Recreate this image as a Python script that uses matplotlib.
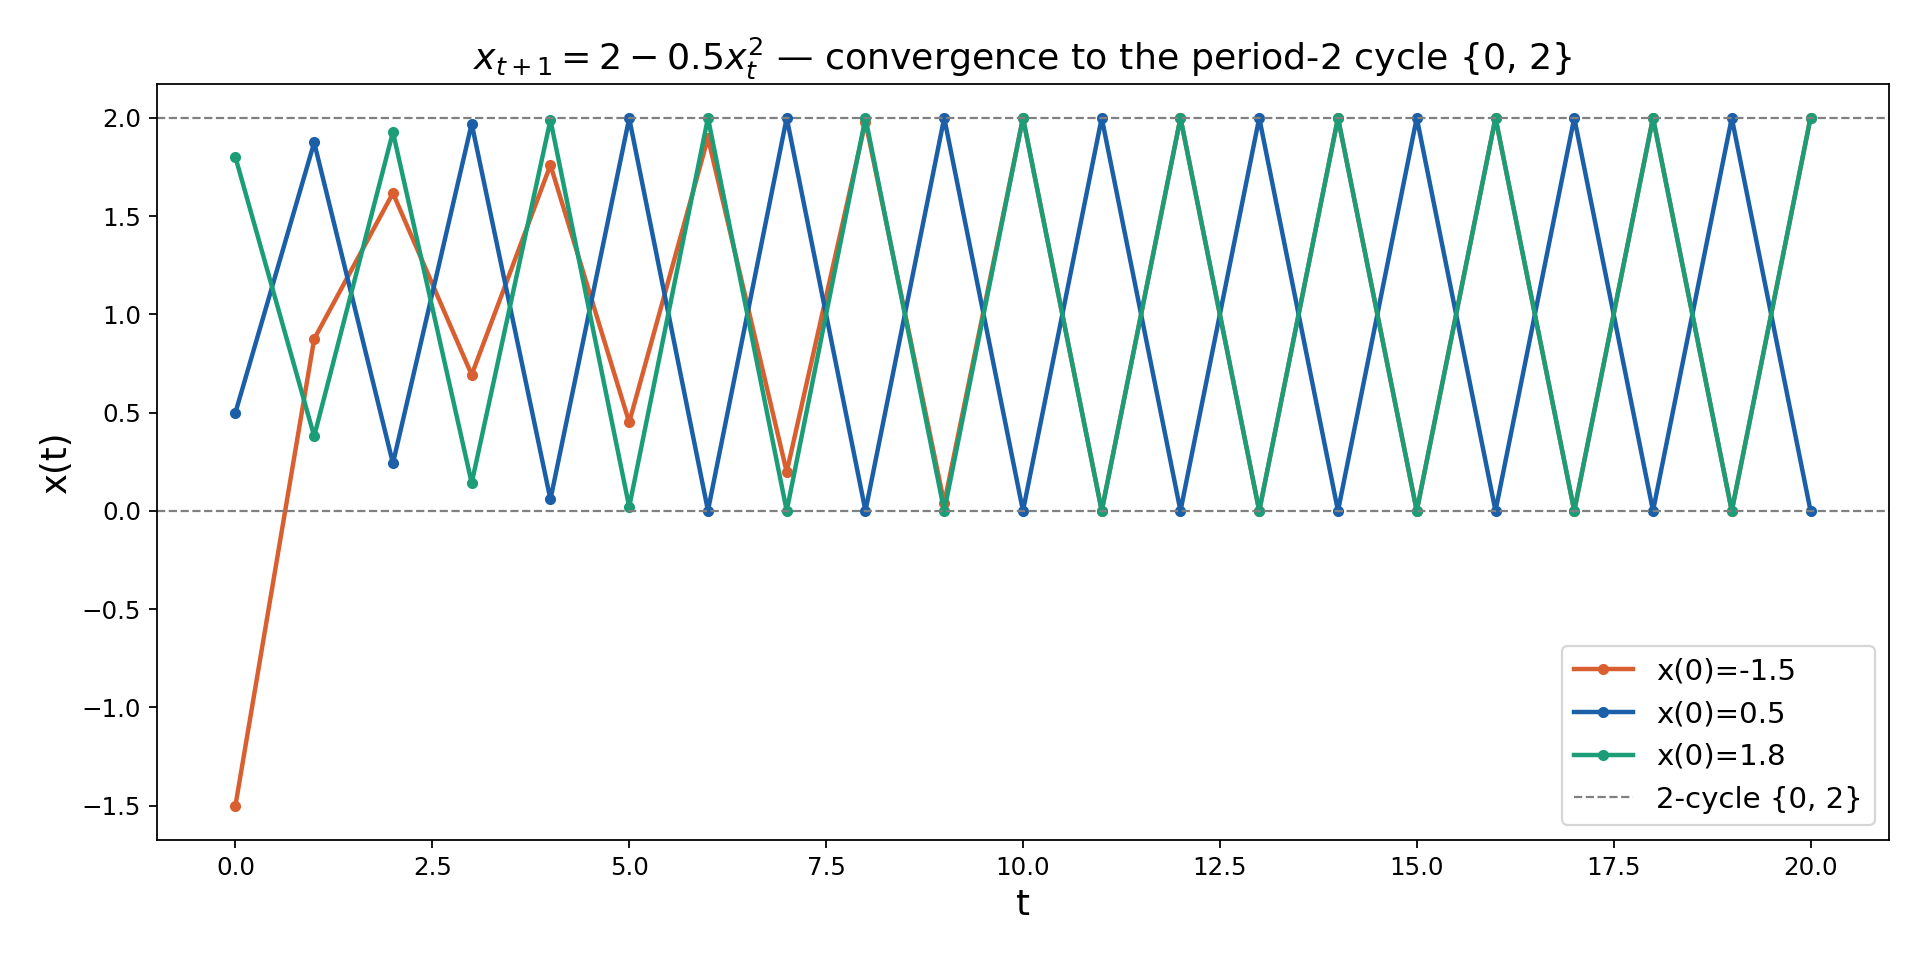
import matplotlib
matplotlib.use("Agg")
import matplotlib.pyplot as plt

t = list(range(21))
x_neg15 = [-1.5, 0.875, 1.6172, 0.6924, 1.7603, 0.4506, 1.8985, 0.1979, 1.9804, 0.0390,
           1.9992, 0.0015, 2.0, 0.0, 2.0, 0.0, 2.0, 0.0, 2.0, 0.0, 2.0]
x_05 = [0.5, 1.875, 0.2422, 1.9707, 0.0582, 1.9983, 0.0017, 2.0, 0.0, 2.0,
        0.0, 2.0, 0.0, 2.0, 0.0, 2.0, 0.0, 2.0, 0.0, 2.0, 0.0]
x_18 = [1.8, 0.38, 1.9278, 0.1418, 1.9899, 0.0200, 1.9998, 0.0002, 2.0, 0.0,
        2.0, 0.0, 2.0, 0.0, 2.0, 0.0, 2.0, 0.0, 2.0, 0.0, 2.0]
series = [("x(0)=-1.5", x_neg15, "#d95f30"),
          ("x(0)=0.5", x_05, "#1a5fa8"),
          ("x(0)=1.8", x_18, "#1b9e77")]
cycle = [0, 2]

fig, ax = plt.subplots(figsize=(12, 6), dpi=160)
for label, vals, col in series:
    ax.plot(t, vals, marker="o", markersize=4, lw=2, color=col, label=label)
for i, c in enumerate(cycle):
    ax.axhline(c, color="gray", ls="--", lw=1, label="2-cycle {0, 2}" if i == 0 else None)
ax.set_xlabel("t", fontsize=16)
ax.set_ylabel("x(t)", fontsize=16)
ax.tick_params(labelsize=11)
ax.set_title(r"$x_{t+1} = 2 - 0.5x_t^2$ — convergence to the period-2 cycle {0, 2}", fontsize=16.4)
ax.legend(loc="lower right", fontsize=13.2)
fig.subplots_adjust(left=0.0816, right=0.984, top=0.913, bottom=0.125)
fig.savefig("out.png")
